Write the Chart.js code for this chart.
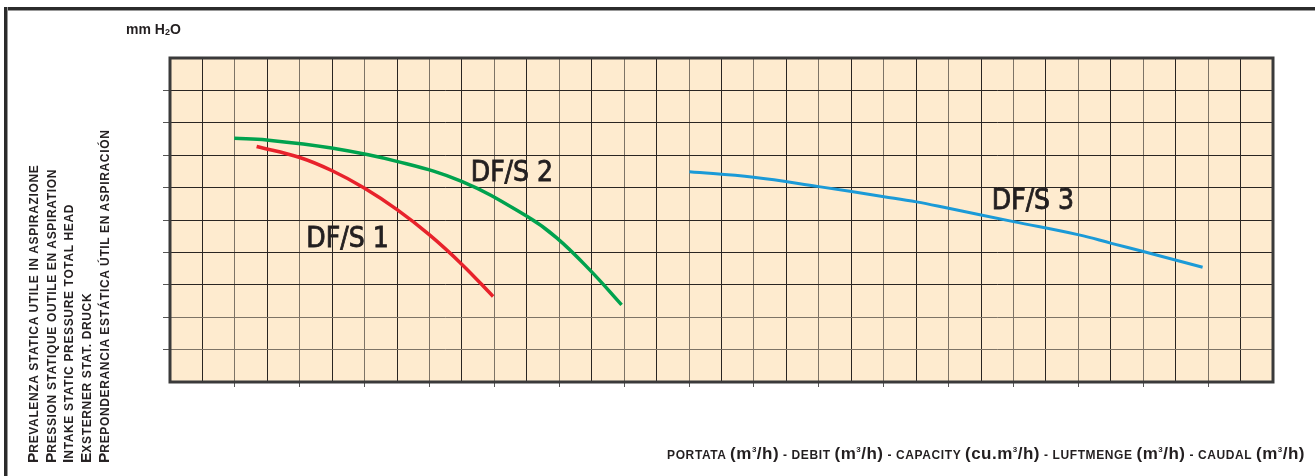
<!DOCTYPE html>
<html>
<head>
<meta charset="utf-8">
<script src="https://cdn.jsdelivr.net/npm/chart.js@4.4.1/dist/chart.umd.min.js"></script>
<style>
  body { margin: 0; background: #fff; }
  #page { position: relative; width: 1315px; height: 476px; overflow: hidden; font-family: Arial, "Liberation Sans", sans-serif; color: #231f20; }
  #chart { position: absolute; left: 0; top: 0; }
  .frame { position: absolute; background: #2b2b2b; }
  #unit { position: absolute; left: 126px; top: 22px; font-size: 14px; font-weight: bold; line-height: 14px; }
  #unit sub { font-size: 9px; vertical-align: -1px; }
  #ytitle { position: absolute; left: 25px; top: 463px; width: 360px; transform-origin: left top; transform: rotate(-90deg);
            font-weight: bold; font-size: 12px; letter-spacing: 0.65px; line-height: 15.7px; white-space: nowrap; }
  #ytitle .big { font-size: 15.5px; letter-spacing: 0; }
  #xtitle { position: absolute; right: 10px; top: 440px; font-weight: bold; font-size: 12px; letter-spacing: 0.6px; white-space: nowrap; line-height: 20px; }
  #xtitle .u { font-size: 17px; letter-spacing: 0.5px; }
  #xtitle sup { font-size: 8px; vertical-align: 7px; }
</style>
</head>
<body>
<div id="page">
  <canvas id="chart" width="1315" height="476"></canvas>
  <div class="frame" style="left:4px;top:7px;width:1311px;height:2.5px;box-shadow:0 1px 0 #999"></div>
  <div class="frame" style="left:4px;top:7px;width:2.5px;height:469px;box-shadow:1px 0 0 #999"></div>
  <div id="unit">mm H<sub>2</sub>O</div>
  <div id="ytitle">
    <div><span class="big">P</span>REVALENZA STATICA UTILE IN ASPIRAZIONE</div>
    <div><span class="big">P</span>RESSION STATIQUE OUTILE EN ASPIRATION</div>
    <div><span class="big">I</span>NTAKE STATIC PRESSURE TOTAL HEAD</div>
    <div><span class="big">E</span>XSTERNER STAT. DRUCK</div>
    <div><span class="big">P</span>REPONDERANCIA ESTÁTICA ÚTIL EN ASPIRACIÓN</div>
  </div>
  <div id="xtitle">PORTATA <span class="u">(m<sup>3</sup>/h)</span> - DEBIT <span class="u">(m<sup>3</sup>/h)</span> - CAPACITY <span class="u">(cu.m<sup>3</sup>/h)</span> - LUFTMENGE <span class="u">(m<sup>3</sup>/h)</span> - CAUDAL <span class="u">(m<sup>3</sup>/h)</span></div>
</div>
<script>
// grid is in plain squares: 34 columns by 10 rows, no numbers printed
const X_MAX = 34;
const Y_MAX = 10;

// DF/S 1 (red)
const s1x = [2.67, 4, 5, 6, 7, 8, 9, 9.96];
const s1y = [7.27, 6.93, 6.52, 5.98, 5.32, 4.54, 3.63, 2.64];
// DF/S 2 (green)
const s2x = [1.98, 2.98, 4.98, 6.99, 8.99, 10.99, 11.92, 12.94, 13.92];
const s2y = [7.52, 7.47, 7.22, 6.81, 6.19, 5.12, 4.45, 3.46, 2.38];
// DF/S 3 (blue)
const s3x = [16.01, 17.99, 20.0, 22.01, 23.01, 24.0, 26.0, 28.02, 29.02, 30.03, 31.83];
const s3y = [6.49, 6.32, 6.03, 5.72, 5.56, 5.36, 4.95, 4.54, 4.28, 4.02, 3.54];

const seriesNames = ['DF/S 1', 'DF/S 2', 'DF/S 3'];
const seriesColors = ['#e8222b', '#00a24e', '#1b9ad7'];
// where the curve names sit, in grid units
const nameX = [5.47, 10.54, 26.6];
const nameY = [4.38, 6.43, 5.56];

const DARK = '#2a2522';
const GREY = '#7d7366';

function pts(xs, ys) {
    return xs.map((x, i) => ({ x: x, y: ys[i] }));
}

const plotBox = {
    id: 'plotBox',
    beforeDraw(chart) {
        const a = chart.chartArea;
        const ctx = chart.ctx;
        ctx.save();
        ctx.fillStyle = '#feebcf';
        ctx.fillRect(a.left, a.top, a.right - a.left, a.bottom - a.top);
        ctx.restore();
    },
    afterDatasetsDraw(chart) {
        const ctx = chart.ctx;
        const xs = chart.scales.x, ys = chart.scales.y;
        ctx.save();
        ctx.fillStyle = '#231f20';
        ctx.strokeStyle = '#231f20';
        ctx.lineWidth = 0.8;
        ctx.font = "28px 'Liberation Sans Narrow', 'DejaVu Sans Condensed', sans-serif";
        ctx.textAlign = 'center';
        ctx.textBaseline = 'middle';
        seriesNames.forEach((n, i) => {
            const px = xs.getPixelForValue(nameX[i]);
            const py = ys.getPixelForValue(nameY[i]);
            ctx.fillText(n, px, py);
            ctx.strokeText(n, px, py);
        });
        ctx.restore();
    },
    afterDraw(chart) {
        const a = chart.chartArea;
        const ctx = chart.ctx;
        ctx.save();
        ctx.strokeStyle = '#3a3a3a';
        ctx.lineWidth = 3;
        ctx.strokeRect(a.left, a.top, a.right - a.left, a.bottom - a.top);
        ctx.restore();
    }
};

const datasets = [s1x, s2x, s3x].map((xs, i) => ({
    label: seriesNames[i],
    data: pts(xs, [s1y, s2y, s3y][i]),
    showLine: true,
    borderColor: seriesColors[i],
    backgroundColor: seriesColors[i],
    borderWidth: i === 2 ? 3 : 3.5,
    pointRadius: 0,
    tension: 0.4,
    fill: false
}));

new Chart(document.getElementById('chart').getContext('2d'), {
    type: 'scatter',
    data: { datasets: datasets },
    plugins: [plotBox],
    options: {
        responsive: false,
        devicePixelRatio: 1,
        animation: false,
        layout: { padding: { left: 163, top: 58, right: 42, bottom: 89 } },
        plugins: { legend: { display: false }, tooltip: { enabled: false } },
        scales: {
            x: {
                type: 'linear', min: 0, max: X_MAX,
                ticks: { stepSize: 1, display: false },
                border: { display: false },
                grid: {
                    lineWidth: 1,
                    color: c => (c.tick && c.tick.value % 2 === 1) ? DARK : GREY,
                    tickLength: 5,
                    tickColor: c => (c.tick && c.tick.value % 2 === 0 && c.tick.value > 0 && c.tick.value < X_MAX) ? '#555' : 'rgba(0,0,0,0)'
                }
            },
            y: {
                type: 'linear', min: 0, max: Y_MAX,
                ticks: { stepSize: 1, display: false },
                border: { display: false },
                grid: {
                    lineWidth: 1,
                    color: c => (c.tick && c.tick.value <= 2) ? GREY : DARK,
                    tickLength: 7,
                    tickColor: c => (c.tick && c.tick.value > 0 && c.tick.value < Y_MAX) ? '#555' : 'rgba(0,0,0,0)'
                }
            }
        }
    }
});
</script>
</body>
</html>
